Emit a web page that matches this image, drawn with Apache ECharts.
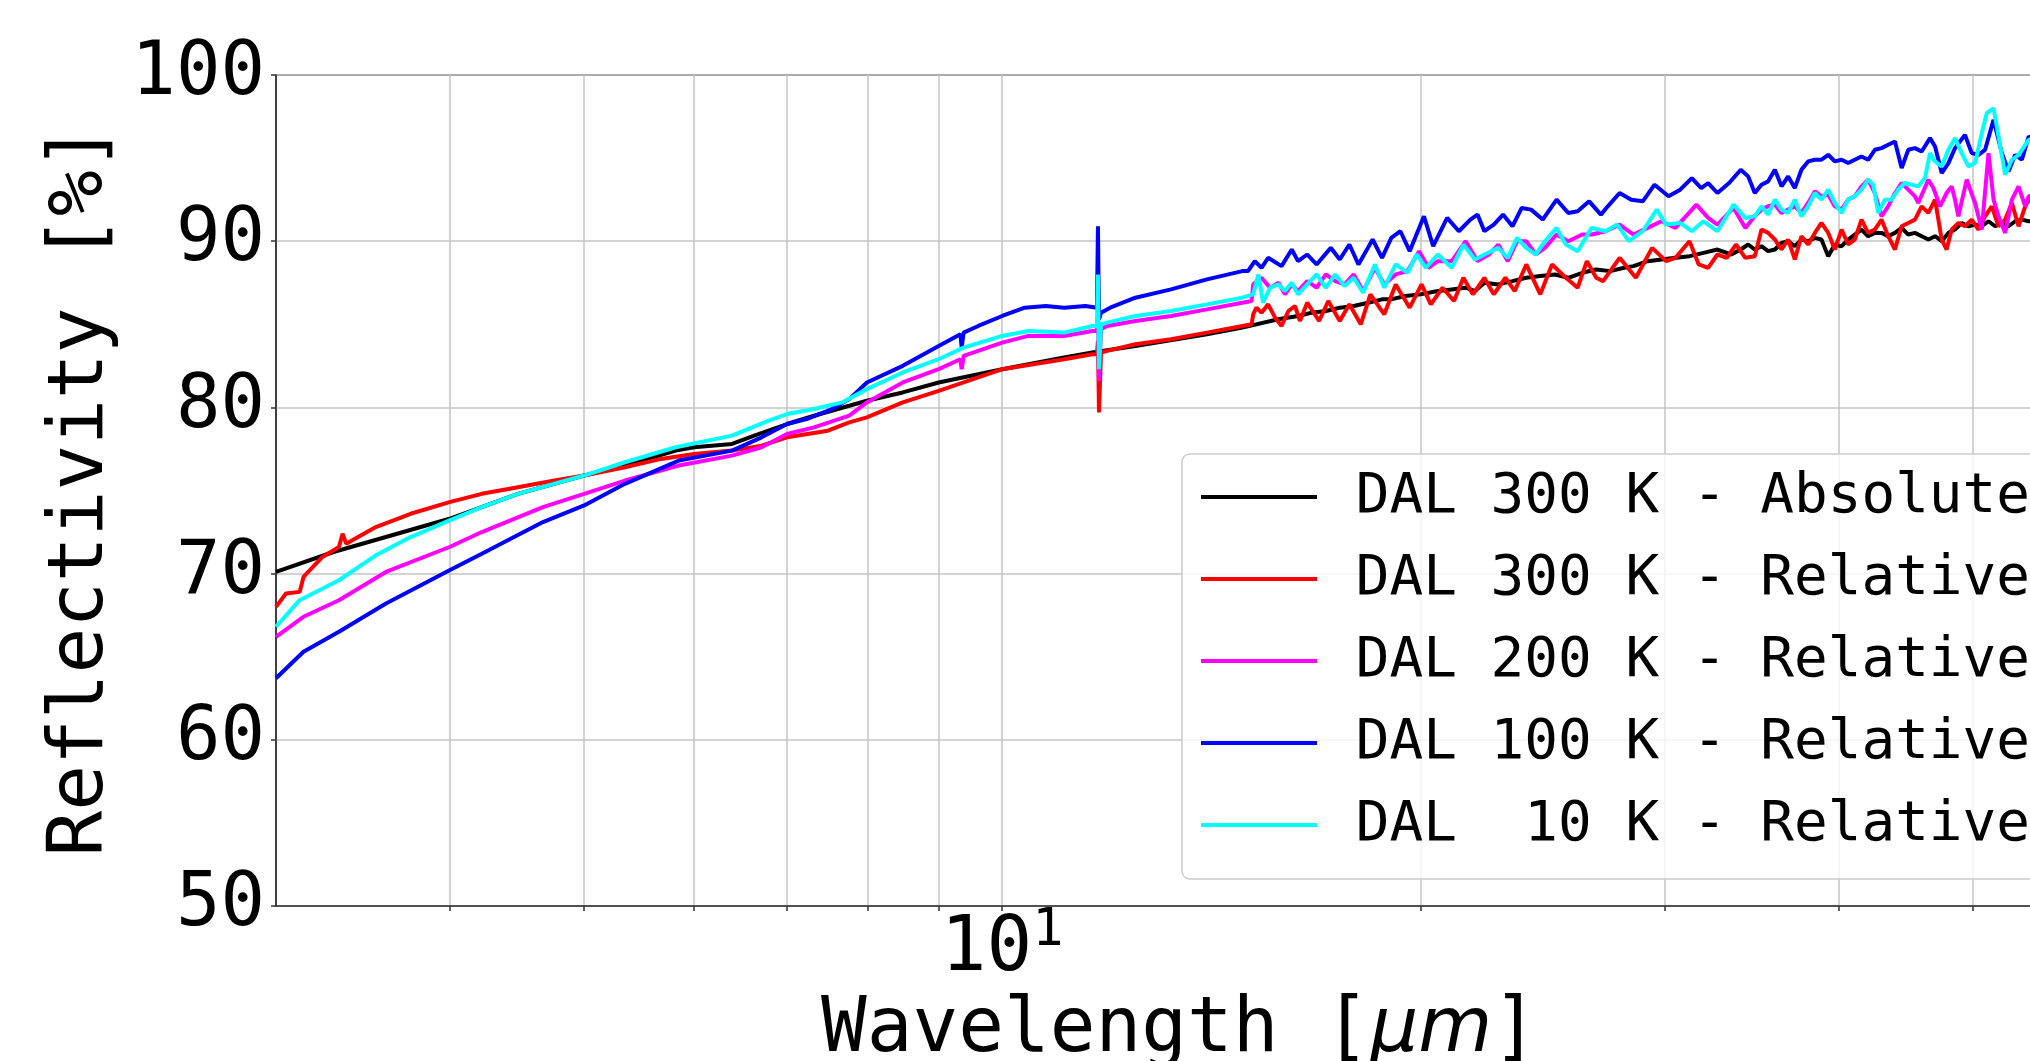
<!DOCTYPE html>
<html>
<head>
<meta charset="utf-8">
<title>Reflectivity</title>
<script src="https://cdn.jsdelivr.net/npm/echarts@6/dist/echarts.min.js"></script>
<style>
    html, body { margin: 0; padding: 0; background: #fff; }
    #chart { width: 2030px; height: 1061px; }
</style>
</head>
<body>
<div id="chart"></div>
<script>
// [wavelength um, reflectivity %]
var abs300 = [[3.0,70.1],[3.3,71.3],[4.0,73.3],[4.48,74.8],[5.0,75.9],[5.35,76.5],[5.82,77.4],[6.0,77.6],[6.39,77.8],[6.63,78.3],[7.0,79.0],[7.32,79.5],[7.99,80.4],[8.48,80.9],[9.0,81.5],[10.0,82.3],[11.08,83.0],[11.61,83.3],[12.47,83.7],[14.04,84.4],[14.89,84.8],[15.8,85.3],[16.33,85.5],[16.71,85.7],[17.1,85.8],[17.5,86.0],[17.91,86.1],[18.34,86.3],[18.77,86.5],[19.06,86.5],[19.5,86.7],[20.0,86.8],[20.59,87.0],[21.07,87.1],[21.56,87.2],[21.9,87.0],[22.24,87.5],[22.76,87.4],[23.3,87.6],[23.84,87.8],[24.4,87.9],[25.0,88.0],[25.56,87.8],[26.16,88.1],[26.77,88.3],[27.4,88.2],[28.04,88.4],[28.48,88.5],[29.15,88.8],[29.83,88.9],[30.53,89.0],[31.25,89.1],[31.98,89.3],[32.73,89.5],[33.49,89.2],[34.02,89.5],[34.44,89.8],[34.82,89.5],[35.21,89.7],[35.6,89.4],[36.0,89.5],[36.4,89.9],[36.8,90.0],[37.21,89.7],[37.62,90.1],[38.04,90.0],[38.47,90.2],[38.89,90.1],[39.33,89.1],[39.76,89.8],[40.21,89.7],[40.65,90.1],[41.1,90.4],[41.56,90.7],[42.02,90.3],[42.49,90.5],[42.96,90.5],[43.44,90.3],[43.93,90.5],[44.42,90.8],[44.91,90.4],[45.41,90.5],[45.92,90.3],[46.43,90.1],[46.95,90.3],[47.47,90.0],[48.0,90.5],[48.53,90.7],[49.07,91.1],[49.62,90.9],[50.17,91.0],[50.73,90.9],[51.3,91.2],[51.87,90.9],[52.45,91.1],[53.03,90.9],[53.62,91.2],[54.22,91.3],[54.83,91.2],[56.0,91.2]];

var rel300 = [[3.0,68.0],[3.05,68.8],[3.12,68.9],[3.14,69.8],[3.24,71.0],[3.33,71.6],[3.35,72.4],[3.37,71.8],[3.54,72.8],[3.75,73.6],[4.0,74.3],[4.22,74.8],[4.48,75.2],[4.76,75.6],[5.0,75.9],[5.35,76.4],[5.68,76.9],[6.0,77.2],[6.39,77.4],[6.71,77.7],[7.0,78.2],[7.49,78.6],[7.76,79.1],[7.99,79.4],[8.48,80.3],[9.0,81.0],[9.38,81.5],[10.0,82.3],[11.08,82.9],[11.61,83.2],[11.70,83.2],[11.72,84.0],[11.74,79.7],[11.78,83.3],[11.9,83.4],[12.47,83.8],[13.23,84.1],[14.04,84.5],[14.89,84.9],[15.12,85.0],[15.16,85.6],[15.24,86.0],[15.37,85.7],[15.54,86.2],[15.72,85.4],[15.89,84.9],[16.07,85.8],[16.25,86.1],[16.38,85.2],[16.58,86.3],[16.91,85.2],[17.17,86.4],[17.5,85.2],[17.78,86.2],[18.12,85.0],[18.41,86.8],[18.84,85.6],[19.2,87.4],[19.65,86.0],[20.04,87.4],[20.35,86.2],[20.75,87.2],[21.15,86.4],[21.48,87.8],[21.82,86.8],[22.24,87.8],[22.59,86.8],[23.03,87.8],[23.39,87.0],[23.84,88.6],[24.4,86.8],[24.88,88.6],[25.46,87.8],[25.96,87.2],[26.36,88.8],[26.77,87.8],[27.08,87.6],[27.83,89.0],[28.59,87.8],[29.37,89.6],[30.06,88.8],[30.53,89.0],[31.25,90.0],[31.73,88.6],[32.23,88.4],[32.73,89.2],[33.24,89.0],[33.75,89.8],[34.28,89.0],[34.82,89.1],[35.21,90.7],[35.6,90.5],[36.0,90.1],[36.4,89.5],[36.8,90.1],[37.21,88.9],[37.62,90.3],[38.04,89.8],[38.47,90.5],[38.89,91.1],[39.33,90.5],[39.76,89.5],[40.21,90.7],[40.65,89.8],[41.1,90.1],[41.56,91.3],[42.02,90.5],[42.49,90.7],[42.96,91.3],[43.44,90.3],[43.93,89.5],[44.42,90.9],[44.91,91.1],[45.41,91.3],[45.92,92.1],[46.43,91.7],[46.95,92.5],[47.47,90.1],[47.86,89.5],[48.26,90.7],[48.8,91.1],[49.34,90.9],[49.89,91.3],[50.45,90.7],[51.01,91.5],[51.58,92.1],[52.16,90.9],[52.74,91.3],[53.33,92.3],[53.92,90.9],[54.52,92.1],[54.83,92.5],[56.0,91.8]];

var rel200 = [[3.0,66.2],[3.14,67.4],[3.33,68.4],[3.6,70.1],[4.0,71.6],[4.22,72.5],[4.67,74.0],[5.0,74.8],[5.35,75.6],[5.85,76.5],[6.39,77.1],[6.71,77.6],[7.0,78.4],[7.32,78.8],[7.76,79.5],[7.99,80.3],[8.48,81.5],[9.0,82.3],[9.33,82.9],[9.35,82.3],[9.38,83.1],[10.0,83.9],[10.44,84.3],[11.08,84.3],[11.61,84.6],[11.70,84.6],[11.72,86.0],[11.74,81.6],[11.78,84.7],[11.9,84.9],[12.47,85.2],[13.23,85.5],[14.04,85.9],[14.89,86.3],[15.12,86.4],[15.16,87.4],[15.37,87.8],[15.59,87.2],[15.81,87.5],[15.98,86.8],[16.16,87.4],[16.33,87.0],[16.58,87.6],[16.84,87.2],[17.1,88.0],[17.37,87.6],[17.64,87.4],[17.91,88.0],[18.19,87.0],[18.55,88.4],[18.84,87.4],[19.2,88.0],[19.58,88.2],[19.96,89.4],[20.27,88.4],[20.59,88.8],[21.07,88.8],[21.56,90.0],[21.99,88.8],[22.41,89.2],[22.76,89.8],[23.12,88.8],[23.48,90.0],[23.84,90.0],[24.22,89.2],[24.59,89.6],[25.07,90.4],[25.56,90.0],[26.16,90.4],[26.57,90.4],[27.19,90.6],[27.83,91.0],[28.48,90.4],[29.15,90.8],[29.83,91.2],[30.53,90.8],[31.61,92.2],[32.23,91.4],[32.73,91.0],[33.62,92.0],[34.28,90.8],[34.82,91.5],[35.21,91.9],[35.6,92.1],[36.0,92.2],[36.4,91.7],[36.8,91.9],[37.21,92.1],[37.62,91.7],[38.04,92.3],[38.47,93.0],[38.89,92.7],[39.33,92.8],[39.76,92.1],[40.21,91.9],[40.65,92.5],[41.1,92.7],[41.56,93.3],[42.02,93.7],[42.49,92.9],[42.96,91.5],[43.44,92.1],[43.93,92.9],[44.42,93.5],[44.91,93.1],[45.41,92.7],[45.66,92.3],[46.43,93.7],[46.82,93.2],[47.34,92.1],[47.86,92.9],[48.26,93.3],[48.53,92.5],[48.8,91.5],[49.48,93.7],[50.17,92.3],[50.73,90.7],[51.3,95.3],[51.73,92.5],[52.16,91.5],[52.74,90.5],[53.33,92.5],[53.92,93.3],[54.52,92.1],[54.83,92.7],[56.0,93.0]];

var rel100 = [[3.0,63.7],[3.14,65.3],[3.33,66.5],[3.6,68.2],[4.0,70.2],[4.22,71.2],[4.67,73.1],[5.0,74.1],[5.35,75.4],[5.85,76.8],[6.39,77.4],[6.71,78.2],[7.0,79.0],[7.23,79.3],[7.54,79.9],[7.76,80.5],[7.99,81.5],[8.48,82.5],[9.0,83.7],[9.33,84.4],[9.35,83.6],[9.38,84.5],[9.61,84.9],[10.0,85.5],[10.38,86.0],[10.75,86.1],[11.08,86.0],[11.48,86.1],[11.70,86.0],[11.72,90.9],[11.74,85.3],[11.78,85.7],[11.96,86.0],[12.47,86.6],[13.23,87.1],[14.04,87.7],[14.89,88.2],[15.03,88.2],[15.2,88.8],[15.37,88.4],[15.54,89.0],[15.89,88.5],[16.16,89.5],[16.33,88.8],[16.58,89.2],[16.84,88.6],[17.24,89.6],[17.5,88.9],[17.78,89.8],[18.05,88.6],[18.48,90.1],[18.77,89.0],[19.06,90.2],[19.35,90.6],[19.65,89.4],[20.12,91.5],[20.43,89.7],[20.91,91.4],[21.32,90.6],[21.73,91.3],[21.99,91.6],[22.24,90.6],[22.59,91.0],[22.94,91.6],[23.3,90.9],[23.66,92.0],[24.03,91.9],[24.5,91.3],[25.07,92.5],[25.56,91.7],[25.96,91.8],[26.46,92.4],[26.98,91.6],[27.29,92.1],[27.83,92.9],[28.37,92.5],[28.92,92.4],[29.49,93.4],[30.18,92.7],[30.77,93.1],[31.37,93.8],[31.86,93.2],[32.23,93.5],[32.73,92.9],[33.37,93.5],[34.02,94.3],[34.44,93.9],[34.82,92.9],[35.21,93.4],[35.6,93.6],[36.0,94.3],[36.4,93.3],[36.8,93.9],[37.21,93.2],[37.62,94.3],[38.04,94.8],[38.47,94.9],[38.89,94.9],[39.33,95.2],[39.76,94.8],[40.21,94.9],[40.65,94.7],[41.1,94.9],[41.56,95.1],[42.02,94.9],[42.49,95.5],[42.96,95.6],[43.44,95.8],[43.93,96.0],[44.42,94.4],[44.91,95.5],[45.41,95.6],[45.92,95.4],[46.56,96.2],[46.95,95.7],[47.47,94.1],[48.0,94.7],[48.53,95.6],[49.34,96.4],[49.89,95.3],[50.45,95.2],[51.01,95.5],[51.73,97.3],[52.45,95.3],[53.03,94.2],[53.62,95.2],[54.22,94.9],[54.83,96.3],[56.0,96.0]];

var rel10 = [[3.0,66.8],[3.12,68.4],[3.33,69.6],[3.54,71.1],[3.75,72.2],[4.0,73.2],[4.22,74.0],[4.48,74.8],[5.0,75.9],[5.35,76.7],[5.82,77.6],[6.39,78.3],[6.79,79.2],[7.0,79.6],[7.32,79.9],[7.67,80.3],[7.99,81.1],[8.48,82.1],[9.0,82.9],[9.38,83.6],[10.0,84.3],[10.44,84.6],[11.08,84.5],[11.61,84.9],[11.70,84.9],[11.72,88.0],[11.74,82.3],[11.78,85.0],[11.9,85.1],[12.47,85.5],[13.23,85.8],[14.04,86.2],[14.89,86.6],[15.16,86.8],[15.29,88.0],[15.41,86.3],[15.59,87.2],[15.81,87.4],[15.98,87.0],[16.16,87.5],[16.33,86.8],[16.58,87.4],[16.84,88.0],[17.1,87.2],[17.37,88.0],[17.64,87.3],[17.91,87.8],[18.19,86.9],[18.55,88.6],[18.84,87.2],[19.2,88.6],[19.58,88.1],[19.88,89.2],[20.19,88.4],[20.59,89.2],[21.07,88.4],[21.48,89.8],[21.9,88.9],[22.24,89.2],[22.76,89.6],[23.12,89.0],[23.48,90.2],[23.84,89.6],[24.22,89.2],[24.59,90.0],[25.07,90.8],[25.46,89.8],[25.96,89.4],[26.57,90.8],[27.19,90.6],[27.72,91.0],[28.26,90.0],[28.92,90.6],[29.6,91.9],[30.06,91.0],[30.77,91.1],[31.37,90.6],[31.98,91.2],[32.73,90.6],[33.62,92.2],[34.28,91.4],[34.82,91.5],[35.21,92.1],[35.6,91.6],[36.0,92.5],[36.4,91.9],[36.8,91.7],[37.21,92.5],[37.62,91.5],[38.04,92.1],[38.47,92.9],[38.89,92.5],[39.33,93.1],[39.76,92.3],[40.21,91.7],[40.65,92.5],[41.1,92.7],[41.56,93.1],[42.02,93.7],[42.37,93.4],[42.73,91.7],[43.2,92.5],[43.68,92.5],[44.17,93.1],[44.66,93.5],[45.16,93.4],[45.66,93.3],[46.17,93.8],[46.56,95.3],[46.95,94.8],[47.47,94.5],[48.0,95.5],[48.53,96.2],[49.07,95.3],[49.62,94.5],[50.17,94.7],[50.73,96.5],[51.15,97.7],[51.73,98.0],[52.16,96.3],[52.74,94.0],[53.33,94.9],[53.92,95.2],[54.83,96.1],[56.0,96.3]];

var seriesNames = ['DAL 300 K - Absolute', 'DAL 300 K - Relative', 'DAL 200 K - Relative', 'DAL 100 K - Relative', 'DAL  10 K - Relative'];
var seriesColors = ['#000000', '#ff0000', '#ff00ff', '#0000ff', '#00ffff'];
var seriesData = [abs300, rel300, rel200, rel100, rel10];

// major tick at 10, minor ones in between (log axis)
var xTicks = [4, 5, 6, 7, 8, 9, 10, 20, 30, 40, 50];
var xLabels = [10];
var yTicks = [50, 60, 70, 80, 90, 100];

var mono = 'DejaVu Sans Mono';

var chart = echarts.init(document.getElementById('chart'));

var series = seriesData.map(function (d, i) {
    return {
        name: seriesNames[i],
        type: 'line',
        data: d,
        symbol: 'none',
        showSymbol: false,
        color: seriesColors[i],
        lineStyle: { width: 4, color: seriesColors[i] },
        emphasis: { disabled: true },
        animation: false
    };
});

var option = {
    animation: false,
    grid: {
        left: 276,
        top: 75,
        bottom: 155,
        width: 1807, // axis runs on past the right edge of the picture
        outerBoundsMode: 'none',
        show: true,
        borderColor: '#333',
        borderWidth: 1.5,
        backgroundColor: 'transparent'
    },
    legend: {
        orient: 'vertical',
        left: 1182,
        top: 454,
        padding: [15, 20, 26, 19],
        icon: 'rect',
        itemWidth: 116,
        itemHeight: 4,
        itemGap: 26,
        backgroundColor: 'rgba(255,255,255,0.8)',
        borderColor: '#cccccc',
        borderWidth: 1.5,
        borderRadius: 8,
        selectedMode: false,
        formatter: function (name) { return ' ' + name; },
        textStyle: {
            fontFamily: mono,
            fontSize: 56,
            lineHeight: 56,
            color: '#000'
        },
        data: seriesNames
    },
    xAxis: {
        type: 'log',
        logBase: 10,
        min: 3,
        max: 60,
        name: 'Wavelength [{i|μm}]',
        nameLocation: 'middle',
        nameGap: 84,
        nameTextStyle: {
            fontFamily: mono,
            fontSize: 76,
            color: '#000',
            rich: {
                i: { fontFamily: 'DejaVu Sans', fontStyle: 'italic', fontSize: 76, color: '#000' }
            }
        },
        axisLine: { show: true, lineStyle: { color: '#333', width: 1.5 } },
        axisTick: { show: true, length: 5, customValues: xTicks, lineStyle: { color: '#333', width: 1.5 } },
        axisLabel: {
            customValues: xLabels,
            margin: -1,
            formatter: function (v) {
                return Math.round(v) === 10 ? '{b|10}{s|1}' : '';
            },
            rich: {
                b: { fontFamily: mono, fontSize: 76, lineHeight: 76, color: '#000', padding: [14, 0, 0, 0] },
                s: { fontFamily: mono, fontSize: 52, lineHeight: 52, color: '#000', verticalAlign: 'top' }
            }
        },
        splitLine: { show: true, lineStyle: { color: '#c4c4c4', width: 1.5 } },
        minorTick: { show: false },
        minorSplitLine: { show: false }
    },
    yAxis: {
        type: 'value',
        min: 50,
        max: 100,
        interval: 10,
        name: 'Reflectivity [%]',
        nameLocation: 'middle',
        nameGap: 133,
        nameTextStyle: { fontFamily: mono, fontSize: 76, color: '#000' },
        axisLine: { show: true, lineStyle: { color: '#333', width: 1.5 } },
        axisTick: { show: true, length: 5, lineStyle: { color: '#333', width: 1.5 } },
        axisLabel: {
            margin: 11,
            fontFamily: mono,
            fontSize: 74,
            color: '#000',
            formatter: function (v) { return yTicks.indexOf(v) >= 0 ? String(v) : ''; }
        },
        splitLine: { show: true, lineStyle: { color: '#c4c4c4', width: 1.5 } }
    },
    series: series
};

chart.setOption(option);

window.onresize = function () {
    chart.resize();
};
</script>
</body>
</html>
